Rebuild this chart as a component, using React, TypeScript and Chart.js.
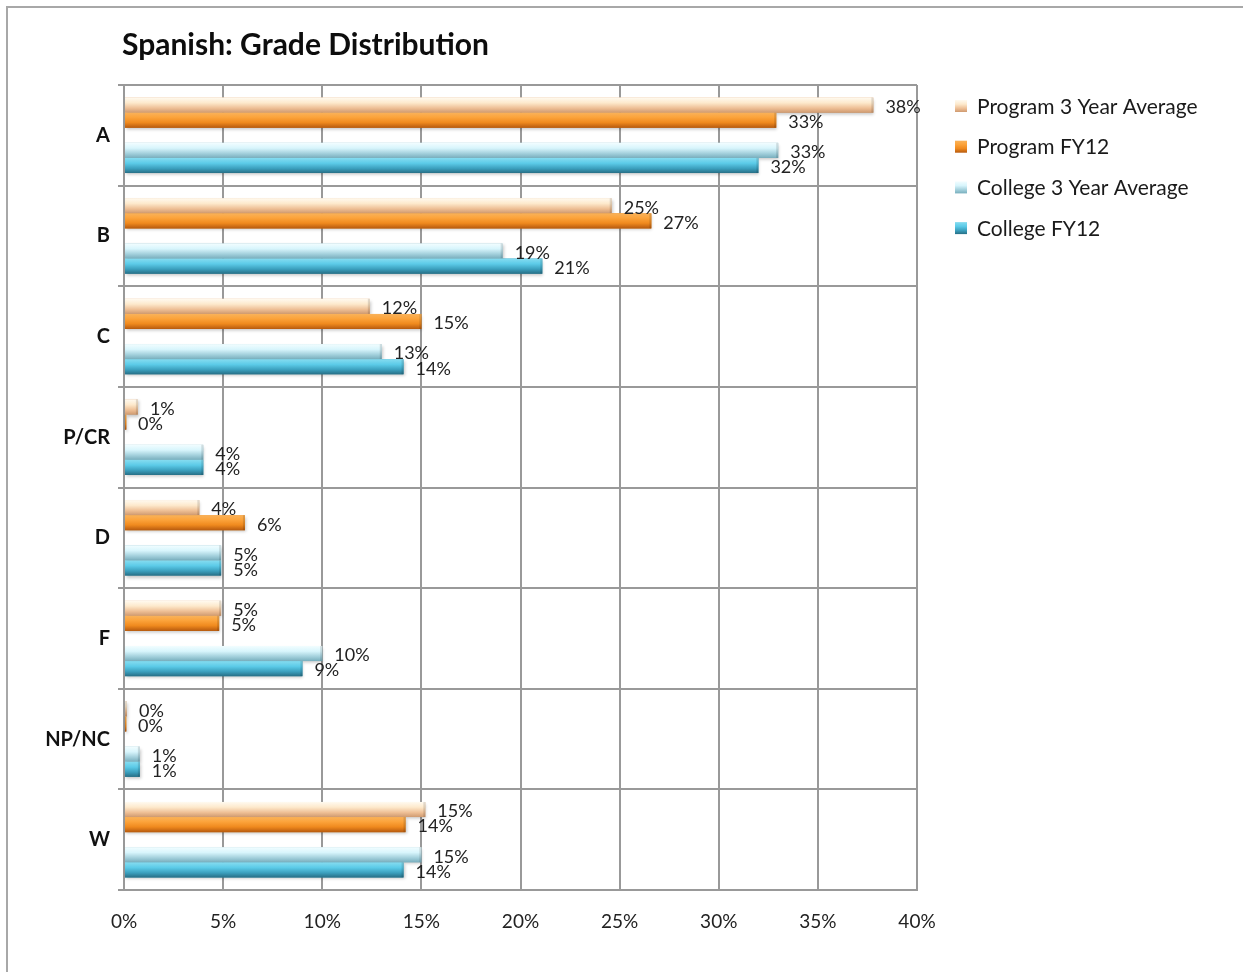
import React, { useEffect, useRef } from "react";
import { Chart, registerables } from "chart.js";

Chart.register(...registerables);

const titleText = "Spanish: Grade Distribution";
const categories = ["A", "B", "C", "P/CR", "D", "F", "NP/NC", "W"];
const seriesNames = ["Program 3 Year Average", "Program FY12", "College 3 Year Average", "College FY12"];
const program3YearAverage = [37.8, 24.6, 12.4, 0.7, 3.8, 4.9, 0.15, 15.2];
const programFY12 = [32.9, 26.6, 15.0, 0.1, 6.1, 4.8, 0.1, 14.2];
const college3YearAverage = [33.0, 19.1, 13.0, 4.0, 4.9, 10.0, 0.8, 15.0];
const collegeFY12 = [32.0, 21.1, 14.1, 4.0, 4.9, 9.0, 0.8, 14.1];
const xMin = 0;
const xMax = 40;
const xStep = 5;

const FONT = 'Lato, "Liberation Sans", sans-serif';

type Stops = [number, string][];
const stopsP3: Stops = [[0, "#fffaf0"], [0.35, "#fde9cc"], [0.7, "#eebf95"], [1, "#cf9a70"]];
const stopsPFY: Stops = [[0, "#f9b25a"], [0.3, "#fca43c"], [0.65, "#f08a1e"], [1, "#b75a0e"]];
const stopsC3: Stops = [[0, "#f2fdff"], [0.35, "#d8f5fc"], [0.7, "#a3d0dc"], [1, "#78aebd"]];
const stopsCFY: Stops = [[0, "#86dcf0"], [0.35, "#5ccbe8"], [0.7, "#3b9fbd"], [1, "#276f86"]];
const seriesStops = [stopsP3, stopsPFY, stopsC3, stopsCFY];

const barGradientPlugin = {
  id: "barGradient",
  afterDatasetsDraw(chart: any) {
    const ctx = chart.ctx;
    chart.data.datasets.forEach((ds: any, di: number) => {
      const stops: Stops | undefined = ds.gradientStops;
      if (!stops) return;
      const meta = chart.getDatasetMeta(di);
      meta.data.forEach((el: any, i: number) => {
        const v = ds.data[i];
        if (v == null) return;
        const { x, y, base, height } = el.getProps(["x", "y", "base", "height"], true);
        const top = y - height / 2;
        const left = Math.min(base, x);
        const w = Math.max(Math.abs(x - base), 1.5);
        const g = ctx.createLinearGradient(0, top, 0, top + height);
        stops.forEach(([o, c]) => g.addColorStop(o, c));
        ctx.save();
        ctx.shadowColor = "rgba(0,0,0,0.22)";
        ctx.shadowBlur = 3;
        ctx.shadowOffsetX = 1;
        ctx.shadowOffsetY = 2;
        ctx.fillStyle = g;
        ctx.fillRect(left, top, w, height);
        ctx.restore();
        ctx.save();
        ctx.fillStyle = "rgba(0,0,0,0.12)";
        ctx.fillRect(left + w - 2, top, 2, height);
        ctx.restore();
      });
    });
  },
};

const dataLabelPlugin = {
  id: "dataLabels",
  afterDatasetsDraw(chart: any) {
    const ctx = chart.ctx;
    ctx.save();
    ctx.font = `18px ${FONT}`;
    ctx.fillStyle = "#222";
    ctx.textAlign = "left";
    ctx.textBaseline = "middle";
    chart.data.datasets.forEach((ds: any, di: number) => {
      if (!ds.gradientStops) return;
      const meta = chart.getDatasetMeta(di);
      meta.data.forEach((el: any, i: number) => {
        const v = ds.data[i];
        if (v == null) return;
        const { x, y } = el.getProps(["x", "y"], true);
        ctx.fillText(`${Math.round(v)}%`, x + 12, y + 2);
      });
    });
    ctx.restore();
  },
};

const titleLegendPlugin = {
  id: "titleLegend",
  afterDraw(chart: any) {
    const ctx = chart.ctx;
    ctx.save();
    ctx.font = `bold 30px ${FONT}`;
    ctx.fillStyle = "#0d0d0d";
    ctx.textAlign = "left";
    ctx.textBaseline = "alphabetic";
    ctx.fillText(titleText, 122, 55);

    ctx.font = `21px ${FONT}`;
    ctx.textBaseline = "middle";
    seriesNames.forEach((name, i) => {
      const cy = 106 + i * 40.7;
      const g = ctx.createLinearGradient(0, cy - 6, 0, cy + 6);
      seriesStops[i].forEach(([o, c]) => g.addColorStop(o, c));
      ctx.fillStyle = g;
      ctx.fillRect(955, cy - 6, 12, 12);
      ctx.fillStyle = "#1a1a1a";
      ctx.fillText(name, 977, cy + 1);
    });
    ctx.restore();
  },
};

export default function App() {
  const canvasRef = useRef<HTMLCanvasElement | null>(null);

  useEffect(() => {
    if (!canvasRef.current) return;
    const mkDs = (label: string, data: (number | null)[], stops: Stops | null) => ({
      label,
      data,
      backgroundColor: stops ? stops[2][1] : "rgba(0,0,0,0)",
      borderWidth: 0,
      barPercentage: 1.0,
      categoryPercentage: 0.75,
      gradientStops: stops || undefined,
    });
    const chart = new Chart(canvasRef.current, {
      type: "bar",
      data: {
        labels: categories,
        datasets: [
          mkDs(seriesNames[0], program3YearAverage, stopsP3),
          mkDs(seriesNames[1], programFY12, stopsPFY),
          mkDs("", categories.map(() => null), null),
          mkDs(seriesNames[2], college3YearAverage, stopsC3),
          mkDs(seriesNames[3], collegeFY12, stopsCFY),
        ] as any,
      },
      options: {
        indexAxis: "y",
        responsive: false,
        animation: false,
        layout: { padding: { left: 0, top: 85, right: 1243 - 917, bottom: 0 } },
        plugins: {
          legend: { display: false },
          title: { display: false },
          tooltip: { enabled: false },
        },
        scales: {
          x: {
            min: xMin,
            max: xMax,
            ticks: {
              stepSize: xStep,
              callback: (v: any) => `${v}%`,
              font: { family: FONT, size: 19 },
              color: "#222",
              padding: 20,
              maxRotation: 0,
            },
            grid: { color: "#999", lineWidth: 2, drawTicks: false },
            border: { color: "#999", width: 2 },
            afterFit: (s: any) => {
              s.height = 82;
            },
          },
          y: {
            ticks: {
              font: { family: FONT, size: 20, weight: "bold" },
              color: "#111",
              padding: 8,
            },
            grid: { color: "#999", lineWidth: 2, tickLength: 6, offset: true },
            border: { color: "#999", width: 2 },
            afterFit: (s: any) => {
              s.width = 124;
            },
          },
        },
      } as any,
      plugins: [barGradientPlugin, dataLabelPlugin, titleLegendPlugin],
    });
    return () => chart.destroy();
  }, []);

  return (
    <div style={{ position: "relative", width: 1243, height: 972, overflow: "hidden", background: "#fff" }}>
      <style>{`body{margin:0;overflow:hidden;}`}</style>
      <div
        style={{
          position: "absolute",
          left: 6,
          top: 6,
          width: 1400,
          height: 1200,
          border: "2px solid #a8a8a8",
          boxSizing: "border-box",
        }}
      />
      <canvas ref={canvasRef} width={1243} height={972} style={{ position: "absolute", left: 0, top: 0 }} />
    </div>
  );
}
